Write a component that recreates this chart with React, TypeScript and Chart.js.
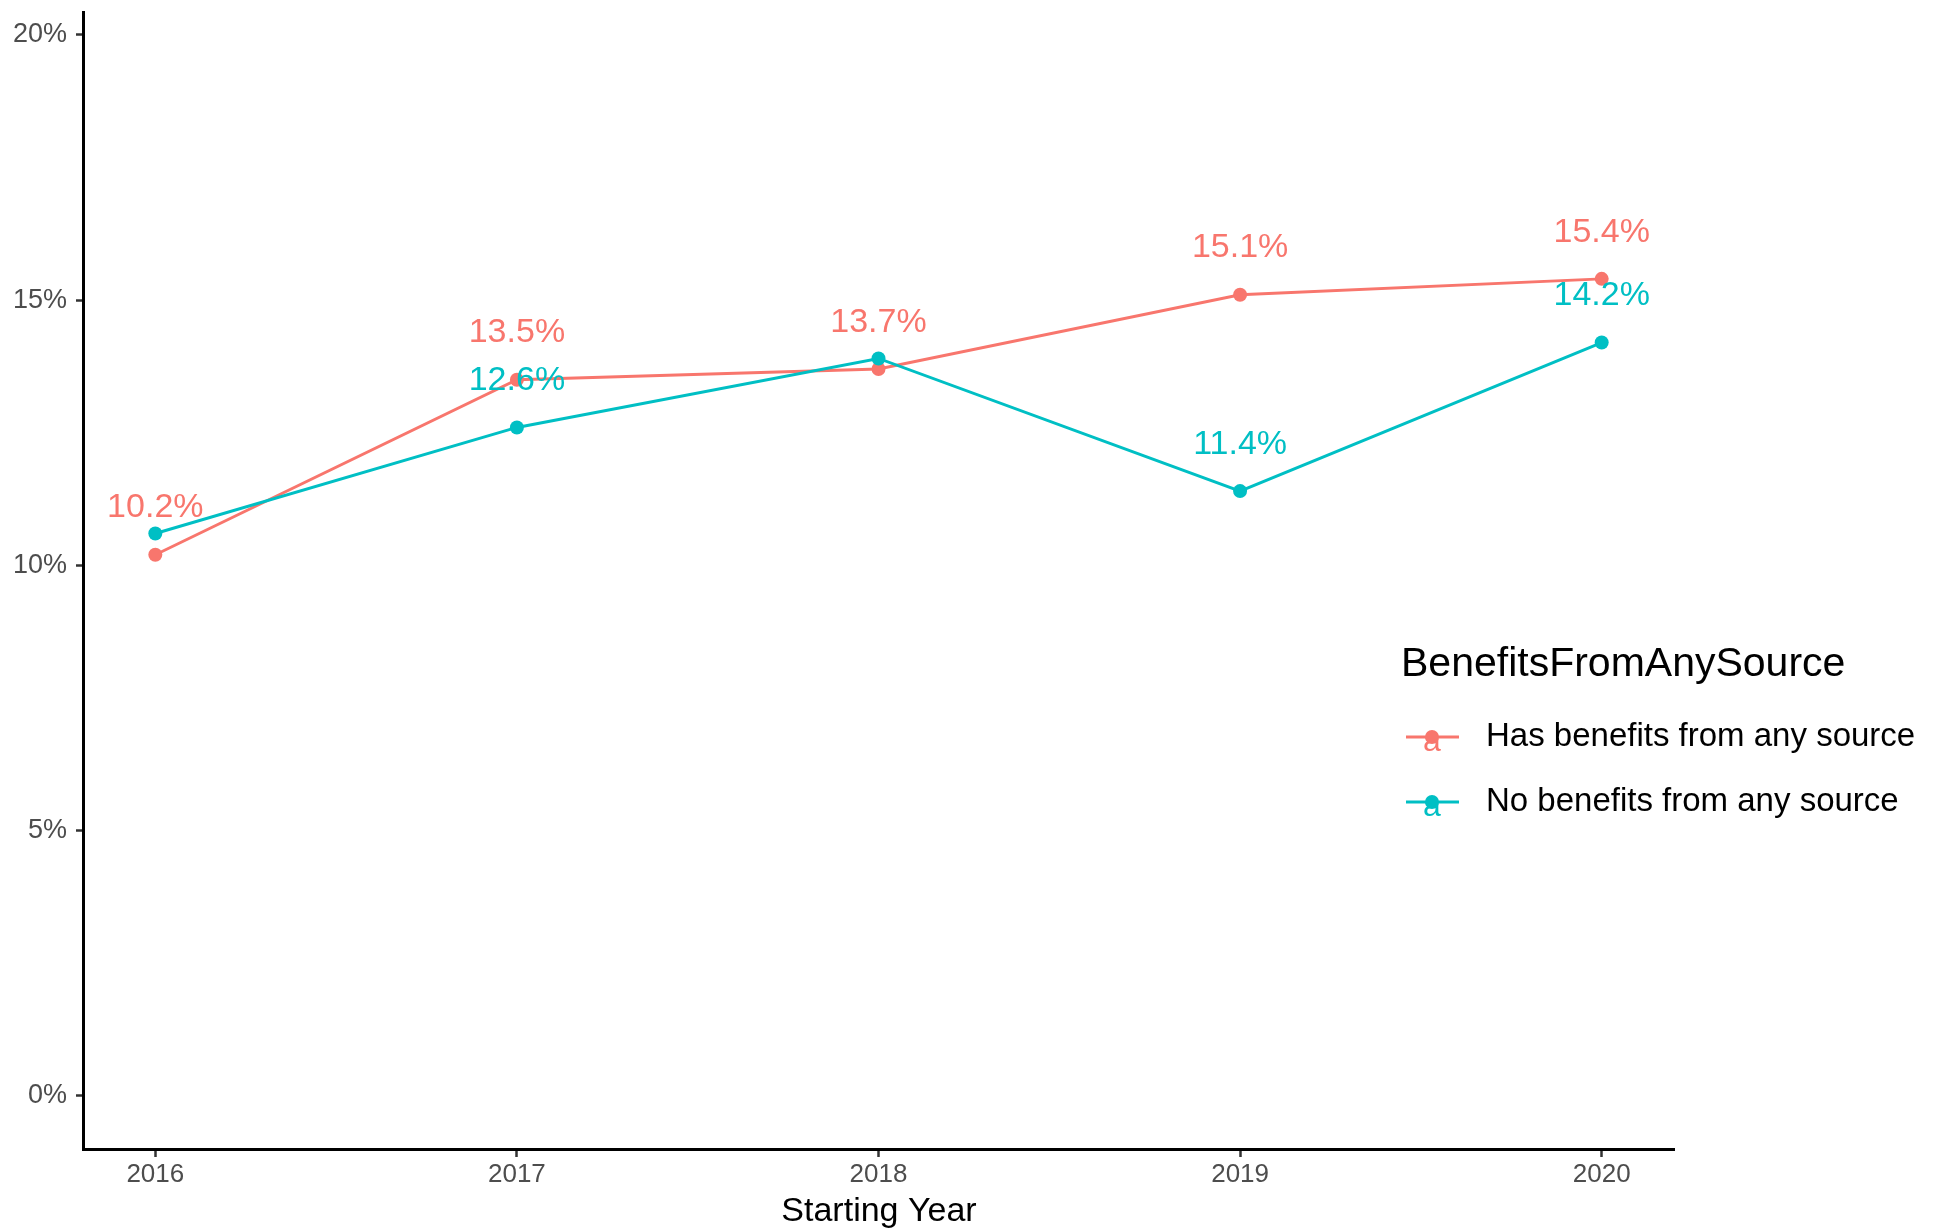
import React, { useEffect, useRef } from "react";
import { Chart, registerables } from "chart.js";

Chart.register(...registerables);

const years = [2016, 2017, 2018, 2019, 2020];
const hasBenefits = [10.2, 13.5, 13.7, 15.1, 15.4];
const noBenefits = [10.6, 12.6, 13.9, 11.4, 14.2];
const hasLabelShown = [true, true, true, true, true];
const noLabelShown = [false, true, false, true, true];
const yTicks = [0, 5, 10, 15, 20];
const seriesNames = ["Has benefits from any source", "No benefits from any source"];
const legendTitle = "BenefitsFromAnySource";
const xTitle = "Starting Year";

const RED = "#F8766D";
const TEAL = "#00BFC4";
const FONT = "'Liberation Sans', Arial, sans-serif";

export default function App() {
  const ref = useRef<HTMLCanvasElement>(null);
  useEffect(() => {
    document.body.style.margin = "0";
    const ctx = ref.current!.getContext("2d")!;

    const labelPlugin = {
      id: "labels",
      afterDatasetsDraw(chart: any) {
        const c = chart.ctx;
        const xs = chart.scales.x;
        const ys = chart.scales.y;
        c.save();
        c.font = `34px ${FONT}`;
        c.textAlign = "center";
        c.textBaseline = "middle";
        const draw = (vals: number[], shown: boolean[], color: string) => {
          c.fillStyle = color;
          vals.forEach((v, i) => {
            if (!shown[i]) return;
            c.fillText(v.toFixed(1) + "%", xs.getPixelForValue(years[i]), ys.getPixelForValue(v + 0.88));
          });
        };
        draw(hasBenefits, hasLabelShown, RED);
        draw(noBenefits, noLabelShown, TEAL);
        c.restore();
      },
      afterDraw(chart: any) {
        const c = chart.ctx;
        c.save();
        // legend
        c.fillStyle = "#000";
        c.font = `41px ${FONT}`;
        c.textAlign = "left";
        c.textBaseline = "middle";
        c.fillText(legendTitle, 1401, 665);
        const items = [
          { name: seriesNames[0], color: RED, y: 737 },
          { name: seriesNames[1], color: TEAL, y: 802 },
        ];
        items.forEach((it) => {
          c.strokeStyle = it.color;
          c.lineWidth = 3;
          c.beginPath();
          c.moveTo(1406, it.y);
          c.lineTo(1459, it.y);
          c.stroke();
          c.fillStyle = it.color;
          c.font = `32px ${FONT}`;
          c.textAlign = "center";
          c.textBaseline = "middle";
          c.fillText("a", 1432, it.y + 5);
          c.beginPath();
          c.arc(1432, it.y, 7, 0, Math.PI * 2);
          c.fill();
          c.fillStyle = "#000";
          c.font = `33px ${FONT}`;
          c.textAlign = "left";
          c.fillText(it.name, 1486, it.y);
        });
        // x title
        c.font = `34px ${FONT}`;
        c.textAlign = "center";
        c.fillStyle = "#000";
        c.fillText(xTitle, 879, 1212);
        c.restore();
      },
    };

    const chart = new Chart(ctx, {
      type: "line",
      data: {
        datasets: [
          {
            label: seriesNames[0],
            data: years.map((y, i) => ({ x: y, y: hasBenefits[i] })),
            borderColor: RED,
            backgroundColor: RED,
            borderWidth: 3,
            pointRadius: 7,
            pointBorderWidth: 0,
            order: 1,
          },
          {
            label: seriesNames[1],
            data: years.map((y, i) => ({ x: y, y: noBenefits[i] })),
            borderColor: TEAL,
            backgroundColor: TEAL,
            borderWidth: 3,
            pointRadius: 7,
            pointBorderWidth: 0,
            order: 0,
          },
        ],
      },
      options: {
        animation: false,
        responsive: false,
        maintainAspectRatio: false,
        layout: { padding: { top: 12, right: 260, left: 0, bottom: 0 } },
        plugins: { legend: { display: false }, tooltip: { enabled: false } },
        scales: {
          x: {
            type: "linear",
            min: 2015.8,
            max: 2020.2,
            afterBuildTicks: (s: any) => {
              s.ticks = years.map((v) => ({ value: v }));
            },
            afterFit: (s: any) => {
              s.height = 79;
              s.paddingLeft = 0;
              s.paddingRight = 0;
            },
            ticks: {
              color: "#4D4D4D",
              font: { family: FONT, size: 26 },
              padding: 2,
              maxRotation: 0,
              autoSkip: false,
              callback: (v: any) => String(v),
            },
            grid: {
              display: true,
              drawOnChartArea: false,
              drawTicks: true,
              tickLength: 8,
              tickColor: "#333333",
              tickWidth: 2.5,
            },
            border: { display: true, color: "#000", width: 3 },
          },
          y: {
            type: "linear",
            min: -1.0,
            max: 20.43,
            afterBuildTicks: (s: any) => {
              s.ticks = yTicks.map((v) => ({ value: v }));
            },
            afterFit: (s: any) => {
              s.width = 83;
              s.paddingTop = 0;
              s.paddingBottom = 0;
            },
            ticks: {
              color: "#4D4D4D",
              font: { family: FONT, size: 27 },
              padding: 9,
              callback: (v: any) => v + "%",
            },
            grid: {
              display: true,
              drawOnChartArea: false,
              drawTicks: true,
              tickLength: 7,
              tickColor: "#333333",
              tickWidth: 2.5,
            },
            border: { display: true, color: "#000", width: 3 },
          },
        },
      },
      plugins: [labelPlugin],
    });
    return () => chart.destroy();
  }, []);

  return (
    <div style={{ position: "absolute", left: 0, top: 0, width: 1934, height: 1228, background: "#fff" }}>
      <canvas ref={ref} width={1934} height={1228} style={{ width: 1934, height: 1228 }} />
    </div>
  );
}
